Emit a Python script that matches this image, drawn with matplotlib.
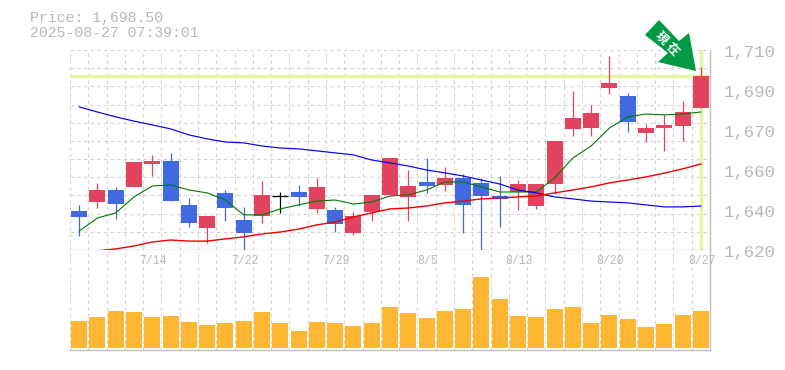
import matplotlib
matplotlib.use("Agg")
import matplotlib.pyplot as plt
from matplotlib.patches import Polygon
from matplotlib.transforms import Affine2D

W, H = 785, 370

price_title = "Price: 1,698.50"
time_title = "2025-08-27 07:39:01"

body_top = [1637.6,1647,1647,1659.6,1660.1,1660.1,1640.3,1635.3,1645.7,1633.5,1644.8,1644.3,1646.1,1648.4,1638,1635.3,1644.8,1661.4,1648.8,1650.6,1652.4,1652.4,1650.2,1644.3,1649.7,1649.7,1669,1679.4,1681.7,1695.2,1689.3,1674.9,1676.3,1682.1,1698.5]
body_bot = [1634.9,1641.6,1640.7,1648.4,1658.7,1642.1,1632.2,1629.9,1638.9,1627.7,1635.3,1644.3,1643.9,1638.5,1631.7,1627.7,1637.1,1644.8,1643.9,1648.8,1649.3,1640.3,1644.3,1643,1646.1,1639.8,1649.7,1674.5,1674.9,1692.9,1677.6,1672.7,1674.9,1675.8,1683.9]
high = [1640.3,1650.2,1648.4,1659.6,1662.8,1663.7,1643.4,1635.3,1647,1639.4,1651,1646.1,1649.3,1652.4,1639.4,1637.1,1644.8,1661.4,1656,1661.4,1657.4,1654.2,1652.4,1653.3,1651.5,1649.7,1669,1691.6,1685.3,1707.3,1690.7,1676.7,1681.2,1687,1702.4]
low = [1626.3,1638.9,1634,1648.4,1653.3,1642.1,1630.4,1623.2,1633,1619.6,1632.2,1636.7,1639.8,1636.7,1628.1,1626.8,1633.1,1644.8,1633,1645.7,1646.6,1627.7,1619.6,1630.4,1638,1638.5,1645.2,1671.3,1671.3,1690.2,1673.1,1668.6,1664.6,1669,1683.9]
# r = rising, b = falling, k = unchanged
direction = ["b","r","b","r","r","b","b","r","b","b","r","k","b","r","b","r","r","r","r","b","r","b","b","b","r","r","r","r","r","r","b","r","r","r","r"]

ma_short = [1628.5,1634.4,1636.7,1643.9,1648.8,1649.3,1647,1645.7,1642.5,1635.8,1635.8,1638.5,1640.3,1642,1642.5,1640.7,1641.6,1644.3,1644.8,1647,1650.6,1650.6,1648.4,1646.1,1646.1,1646.1,1652.4,1661.4,1666.8,1674.9,1679.9,1681.2,1680.8,1681.2,1682.1]
ma_mid = [1684.4,1682.1,1679.9,1678,1676.3,1674.5,1671.8,1670,1668.6,1668.2,1666.8,1665.9,1665.5,1664.6,1663.7,1662.8,1660.5,1659.2,1657.8,1656,1654.7,1653.3,1651.5,1649.7,1647,1645.7,1643.9,1643,1642,1641.6,1641.2,1640.3,1639.4,1639.4,1639.8]
ma_long = [1619.6,1620.5,1621.8,1623.6,1624.5,1624,1624,1625,1625.9,1627.2,1628.1,1629.4,1631.3,1632.6,1634.9,1636.7,1638.5,1638.9,1639.8,1641.2,1642,1643,1643.4,1643.9,1644.3,1645.7,1647,1648.4,1650.2,1651.5,1652.9,1654.6,1656.5,1658.7]
volume = [27,31,37,36,31,32,26,23,25,27,36,25,17,26,25,22,25,41,35,30,37,39,71,49,32,31,39,41,25,33,29,21,24,33,37]

y_tick_values = [1710,1692,1674,1656,1638,1620]
y_tick_labels = ["1,710","1,690","1,670","1,660","1,640","1,620"]
x_tick_index = [4,9,14,19,24,29,34]
x_tick_labels = ["7/14","7/22","7/29","8/5","8/13","8/20","8/27"]
last_price = 1698.5

GRID = "#d2d2d2"; FRAME = "#c0c0c0"; TXT = "#b8b8b8"
RED = "#e2445f"; BLUE = "#4169e1"; BAND = "#e4f5a6"; ORANGE = "#ffb733"; ARROW = "#009944"
MONO = "Liberation Mono"

fig = plt.figure(figsize=(W/100, H/100), dpi=100, facecolor="white")
def axbox(l, t, r, b):
    return [l/W, 1-b/H, (r-l)/W, (b-t)/H]

ax = fig.add_axes(axbox(70, 50, 710, 250))
vx = fig.add_axes(axbox(70, 250, 710, 350))
n = len(volume)

for a in (ax, vx):
    a.set_xlim(-0.5, n-0.5)
    a.set_xticks([i-0.5 for i in range(n+1)])
    a.tick_params(length=0, labelbottom=False, labelleft=False)
    a.grid(axis="x", color=GRID, lw=0.8, ls=(0, (3, 3)))
    a.set_axisbelow(True)
    for s in ("top", "left"):
        a.spines[s].set_visible(False)
    for s in ("right", "bottom"):
        a.spines[s].set_color(FRAME)
        a.spines[s].set_linewidth(1.0)
    a.set_yticks([])

ax.set_ylim(1620, 1710)
ax.set_yticks([1710 - k*90/11 for k in range(12)])
ax.tick_params(axis="y", length=0)
ax.grid(axis="y", color=GRID, lw=0.8, ls=(0, (3, 3)))
ax.axhline(last_price, color=BAND, lw=2.5, zorder=1.5)
ax.axvline(n-1, color=BAND, lw=2.5, zorder=1.5)

wid = 16/(640/35)
for i in range(n):
    c = {"r": RED, "b": BLUE, "k": "black"}[direction[i]]
    ax.vlines(i, low[i], high[i], color=c, lw=0.9, zorder=3)
    if direction[i] == "k":
        ax.hlines(body_top[i], i-wid/2, i+wid/2, color=c, lw=0.9, zorder=3)
    else:
        ax.bar(i, body_top[i]-body_bot[i], bottom=body_bot[i], width=wid, color=c, lw=0, zorder=3)

ax.plot(range(n), ma_short, color="#007a00", lw=0.8, zorder=4)
ax.plot(range(n), ma_mid, color="#0000ee", lw=0.85, zorder=4)
ax.plot(range(1, n), ma_long, color="#f00000", lw=1.0, zorder=4)

vx.set_ylim(-2, 98)
vx.bar(range(n), volume, width=wid, color=ORANGE, lw=0, zorder=3)

def px(x, y):
    return x/W, 1-y/H
for v, s in zip(y_tick_values, y_tick_labels):
    y = 50 + (1710-v)/0.45
    fig.text(*px(750, y+3), s, family=MONO, fontsize=12.5, color=TXT, ha="center", va="center")
for i, s in zip(x_tick_index, x_tick_labels):
    x = 70 + (i+0.5)*640/35
    fig.text(*px(x+1, 261), s, family=MONO, fontsize=8.3, color=TXT, ha="center", va="center")
fig.text(*px(30, 18), price_title, family=MONO, fontsize=10.7, color=TXT, ha="left", va="center")
fig.text(*px(30, 33), time_title, family=MONO, fontsize=10.7, color=TXT, ha="left", va="center")

to_fig = Affine2D().scale(1, -1).translate(0, H) + Affine2D().scale(1/W, 1/H) + fig.transFigure
pts = [(659,20),(645,35),(668,53),(658,62),(696,71),(689,33),(679,41)]
fig.add_artist(Polygon(pts, closed=True, facecolor=ARROW, edgecolor="none", transform=to_fig, zorder=6))
for ch, (cx, cy) in zip("現在", [(661, 38), (672, 49)]):
    fig.text(*px(cx, cy), ch, family="Noto Sans CJK JP", fontweight="bold", fontsize=9, color="white",
             rotation=-45, rotation_mode="anchor", ha="center", va="center", zorder=7)

fig.savefig("out.png", dpi=100)
